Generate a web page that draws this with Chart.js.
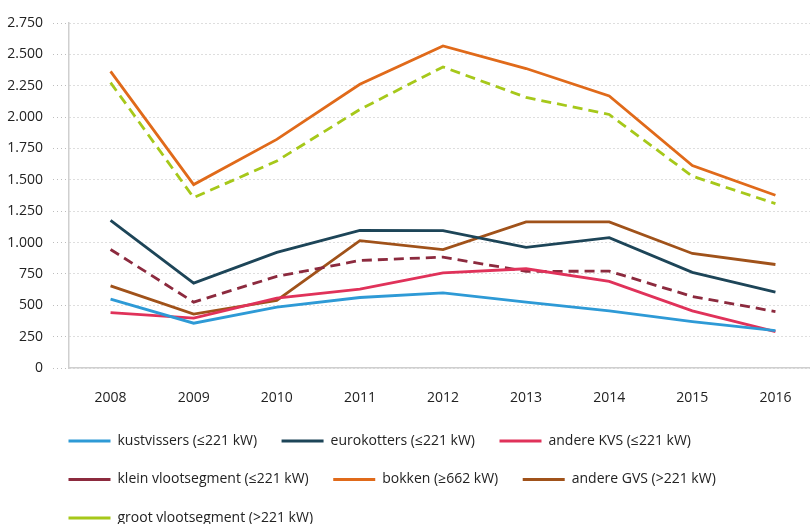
<!DOCTYPE html>
<html>
<head>
<meta charset="utf-8">
<script src="https://cdn.jsdelivr.net/npm/chart.js@4/dist/chart.umd.min.js"></script>
<style>
  html, body { margin: 0; padding: 0; background: #fff; width: 810px; height: 524px; overflow: hidden; }
  #wrap { position: relative; width: 817px; height: 535px; }
</style>
</head>
<body>
<div id="wrap"><canvas id="c"></canvas></div>
<script>
const years = ['2008', '2009', '2010', '2011', '2012', '2013', '2014', '2015', '2016'];
const kustvissers = [549, 357, 485, 562, 599, 525, 455, 370, 298];
const eurokotters = [1177, 677, 921, 1097, 1095, 961, 1039, 762, 605];
const andereKVS = [442, 397, 557, 629, 759, 791, 690, 455, 290];
const kleinVlootsegment = [945, 525, 730, 857, 884, 770, 772, 570, 450];
const bokken = [2365, 1462, 1822, 2261, 2567, 2387, 2168, 1614, 1377];
const andereGVS = [655, 429, 538, 1015, 943, 1164, 1164, 913, 825];
const grootVlootsegment = [2275, 1358, 1650, 2061, 2400, 2157, 2021, 1529, 1310];
const yTickMax = 2750;
const yTickStep = 250;

function fmt(v) { return String(v).replace(/\B(?=(\d{3})+(?!\d))/g, '.'); }

function ds(label, data, color, dashed) {
  return {
    label: label, data: data, borderColor: color, backgroundColor: color,
    borderWidth: 2.8, borderDash: dashed ? [10, 6] : [], pointRadius: 0,
    pointHoverRadius: 0, tension: 0, fill: false
  };
}

const FONT = "'Open Sans', 'Noto Sans', sans-serif";

const legendIndent = {
  id: 'legendIndent',
  afterLayout: function (chart) {
    if (chart.legend) { chart.legend.left = 44; }
  }
};

new Chart(document.getElementById('c'), {
  type: 'line',
  data: {
    labels: years,
    datasets: [
      ds('kustvissers (≤221 kW)', kustvissers, '#2e9ad6', false),
      ds('eurokotters (≤221 kW)', eurokotters, '#1d4558', false),
      ds('andere KVS (≤221 kW)', andereKVS, '#e0325a', false),
      ds('klein vlootsegment (≤221 kW)', kleinVlootsegment, '#8c2a3e', true),
      ds('bokken (≥662 kW)', bokken, '#e06a1a', false),
      ds('andere GVS (>221 kW)', andereGVS, '#a0521a', false),
      ds('groot vlootsegment (>221 kW)', grootVlootsegment, '#a6c81a', true)
    ]
  },
  plugins: [legendIndent],
  options: {
    responsive: true,
    maintainAspectRatio: false,
    animation: false,
    layout: { padding: { top: 23, left: 0, right: 0, bottom: 0 } },
    plugins: {
      tooltip: { enabled: false },
      legend: {
        position: 'bottom',
        align: 'start',
        labels: {
          usePointStyle: true,
          pointStyle: 'line',
          pointStyleWidth: 42,
          boxWidth: 42,
          padding: 24.5,
          color: '#222',
          font: { family: FONT, size: 14 }
        }
      }
    },
    scales: {
      x: {
        offset: true,
        grid: { display: false, drawTicks: false },
        border: { display: true, color: '#cfcfcf', width: 1.5 },
        ticks: { color: '#222', font: { family: FONT, size: 14 }, padding: 21.6, maxRotation: 0 },
        afterFit: function (s) { s.height = 41.5; }
      },
      y: {
        min: 0,
        max: yTickMax,
        grid: { color: '#bdbdbd', lineWidth: 1, drawTicks: true, tickLength: 16, tickColor: '#bdbdbd', tickBorderDash: [1, 3] },
        border: { display: true, color: '#cfcfcf', width: 1.5, dash: [1, 3] },
        ticks: {
          stepSize: yTickStep, color: '#222', padding: 10,
          font: { family: FONT, size: 14 },
          callback: function (v) { return fmt(v); }
        },
        afterFit: function (s) { s.width = 69; }
      }
    }
  }
});
</script>
</body>
</html>
